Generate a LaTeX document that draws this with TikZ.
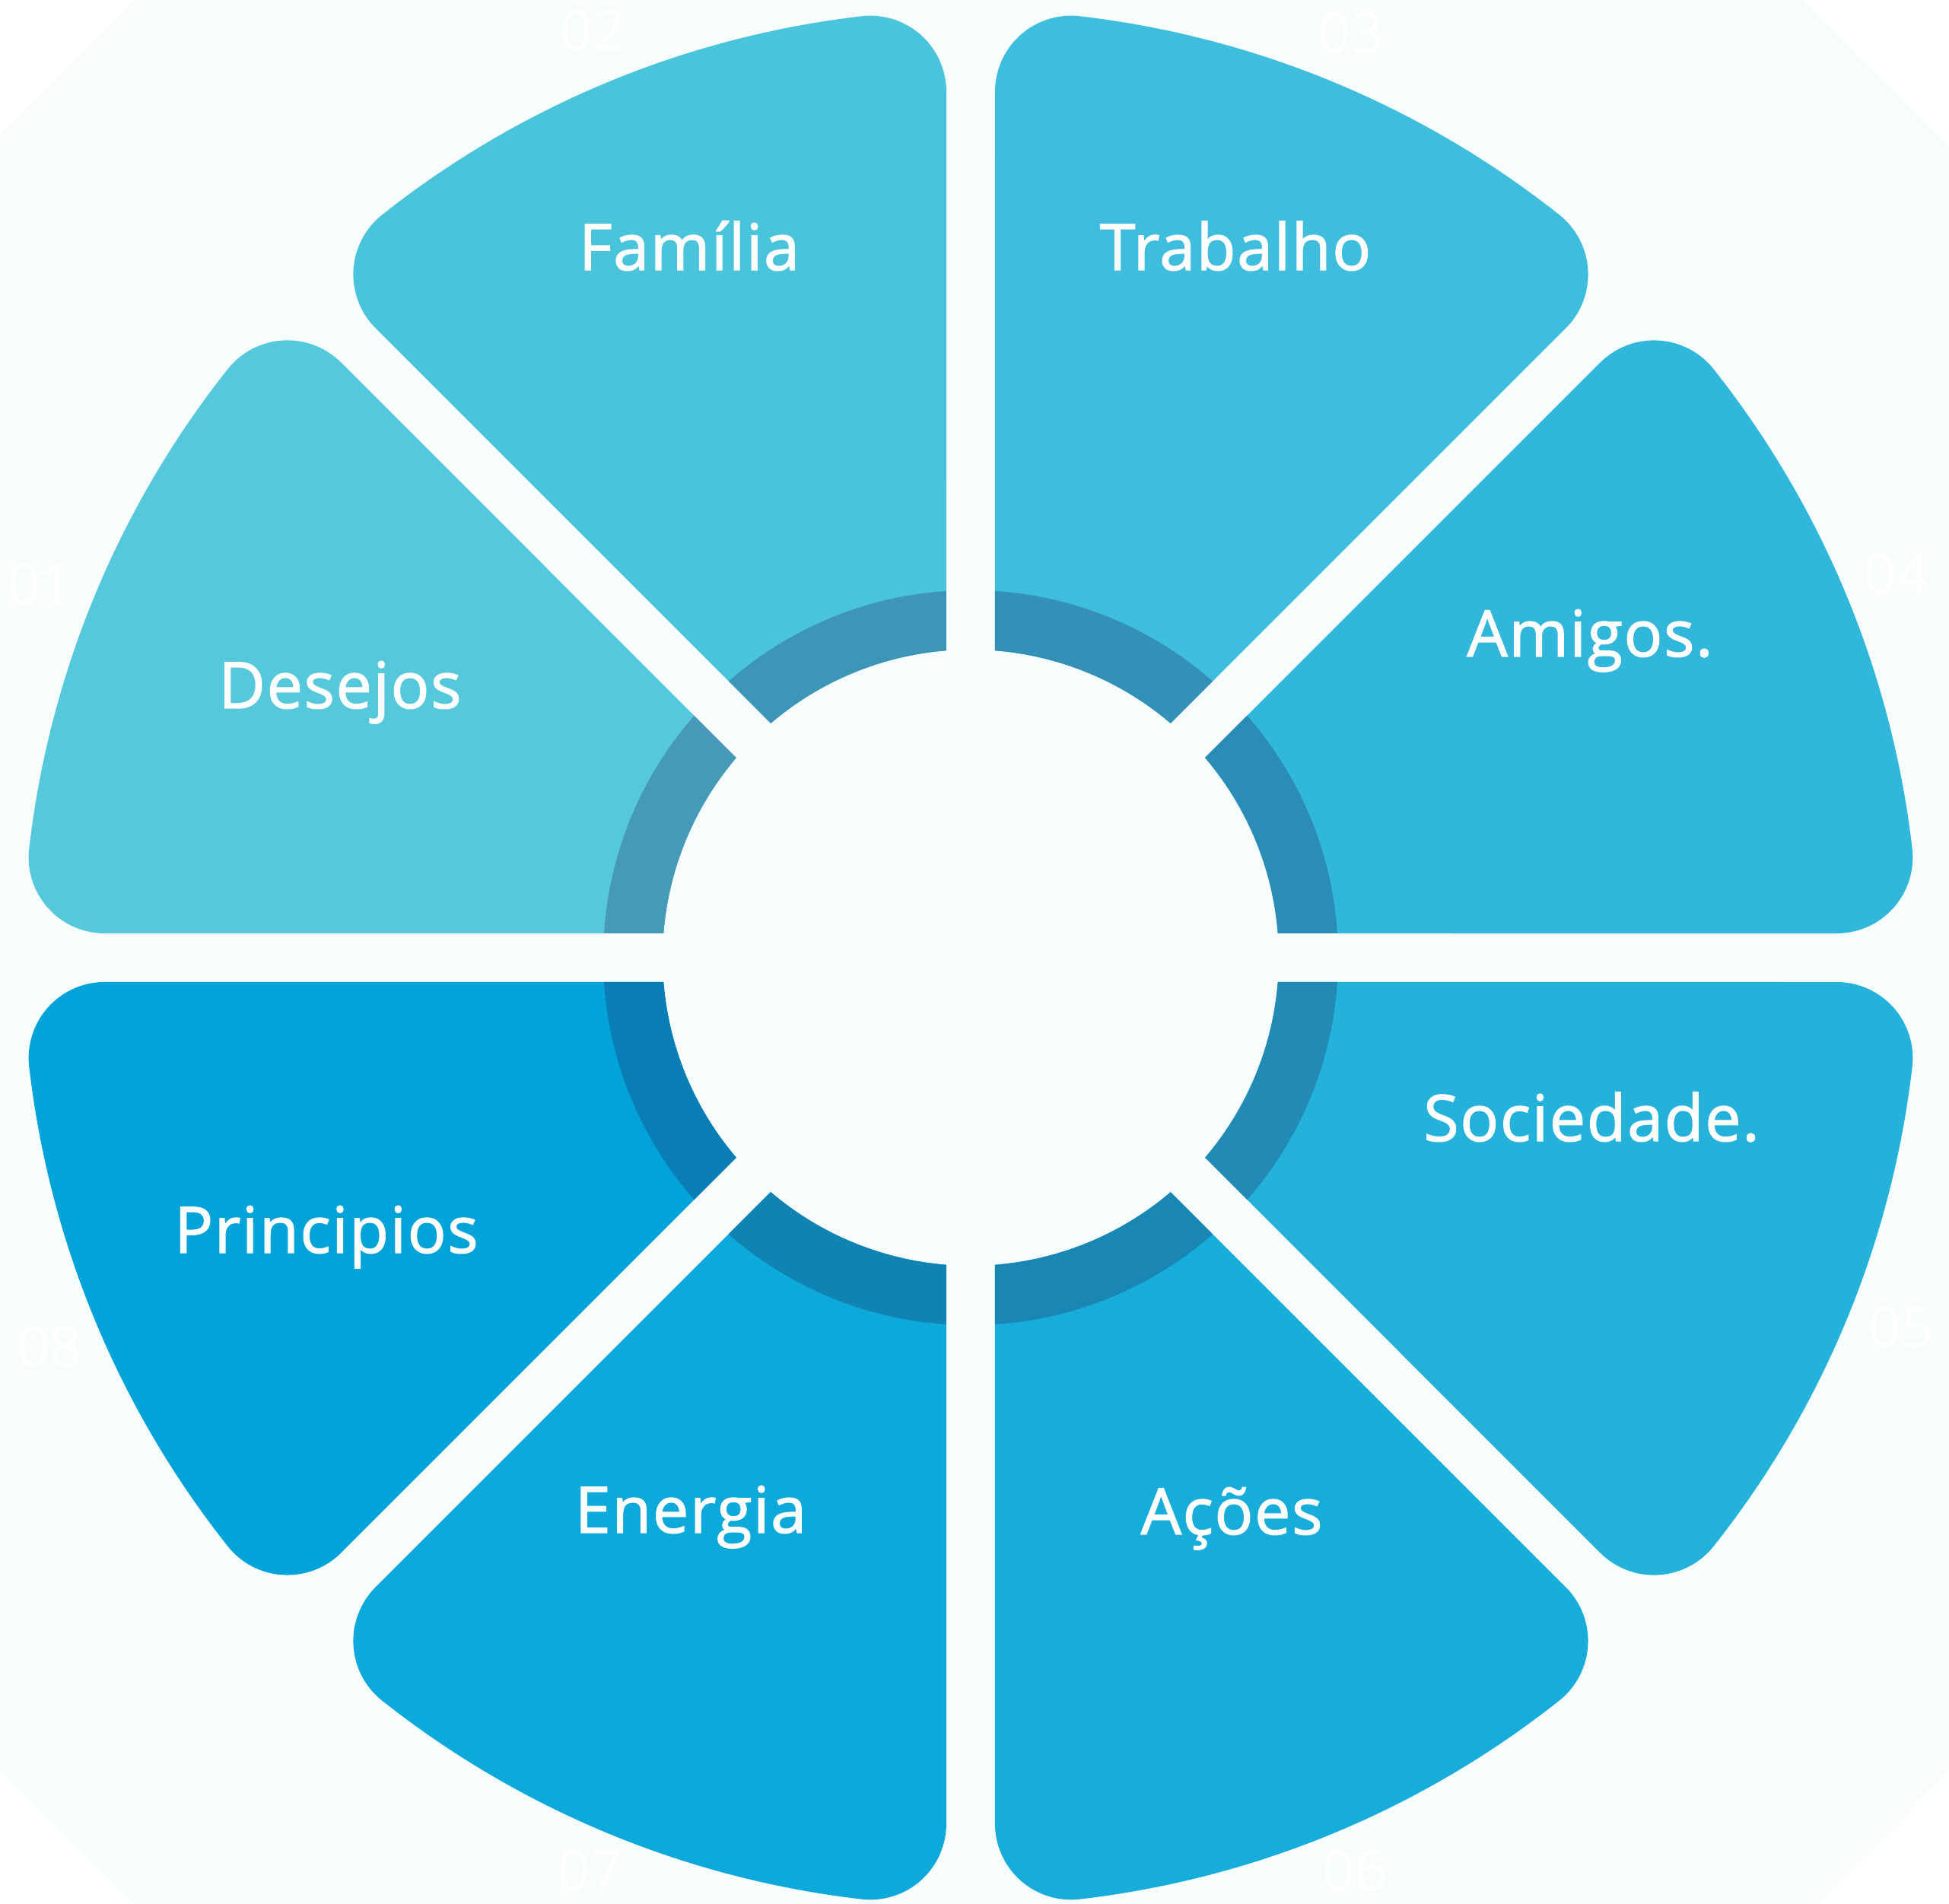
\documentclass[tikz,border=0pt]{standalone}
\usepackage{fontspec}
\setmainfont{Open Sans}
\newfontfamily\labelfont{Open Sans}[LetterSpace=2, FakeBold=1.6]
\usepackage{tikz}

\definecolor{bgtint}{HTML}{F7FCFD}
\definecolor{petalA}{HTML}{30B7DB}
\definecolor{petalB}{HTML}{3EBDDC}
\definecolor{petalC}{HTML}{4AC4DB}
\definecolor{petalD}{HTML}{56C8DB}
\definecolor{petalE}{HTML}{02A3D9}
\definecolor{petalF}{HTML}{0CA9DA}
\definecolor{petalG}{HTML}{17ADDB}
\definecolor{petalH}{HTML}{24B2DB}
\definecolor{ringA}{HTML}{2B8DB6}
\definecolor{ringB}{HTML}{3490B6}
\definecolor{ringC}{HTML}{3D95B7}
\definecolor{ringD}{HTML}{4699B7}
\definecolor{ringE}{HTML}{0A7EB4}
\definecolor{ringF}{HTML}{1183B3}
\definecolor{ringG}{HTML}{1A86B4}
\definecolor{ringH}{HTML}{238AB5}

\newcommand{\petalpath}[1]{(#1+\di:\ri) -- (#1+\aT:\rT)
    arc[start angle=#1-90, end angle=#1+\phi, radius=\rho]
    arc[start angle=#1+\phi, end angle=#1+45-\phi, radius=\R]
    arc[start angle=#1+45-\phi, end angle=#1+135, radius=\rho]
    -- (#1+45-\di:\ri)
    arc[start angle=#1+45-\di, end angle=#1+\di, radius=\ri] -- cycle}

\begin{document}
\begin{tikzpicture}[
    petal label/.style={text=white, anchor=base, inner sep=0pt, font=\labelfont\fontsize{24}{28}\selectfont},
    tag/.style={text=white, inner sep=0pt, font=\fontsize{21}{24}\selectfont}
]
    \pgfmathsetmacro{\R}{12.46}
    \pgfmathsetmacro{\rho}{1.00}
    \pgfmathsetmacro{\gap}{0.32}
    \pgfmathsetmacro{\ri}{4.05}
    \pgfmathsetmacro{\ro}{4.83}
    \pgfmathsetmacro{\phi}{asin((\gap+\rho)/(\R-\rho))}
    \pgfmathsetmacro{\L}{sqrt((\R-\rho)^2-(\gap+\rho)^2)}
    \pgfmathsetmacro{\rT}{sqrt(\L^2+\gap^2)}
    \pgfmathsetmacro{\aT}{atan(\gap/\L)}
    \pgfmathsetmacro{\di}{asin(\gap/\ri)}

    \useasboundingbox (-12.76,-12.44) rectangle (12.86,12.59);
    \fill[bgtint] (-12.76,10.80) -- (-10.97,12.59) -- (10.93,12.59) -- (12.86,10.66)
        -- (12.86,-10.69) -- (11.14,-12.44) -- (-11.01,-12.44) -- (-12.76,-10.69) -- cycle;

    \foreach \a/\pc/\rc in {0/petalA/ringA, 45/petalB/ringB, 90/petalC/ringC, 135/petalD/ringD,
                            180/petalE/ringE, 225/petalF/ringF, 270/petalG/ringG, 315/petalH/ringH}{
        \fill[\pc] \petalpath{\a};
        \begin{scope}
            \clip \petalpath{\a};
            \fill[\rc] (0,0) circle[radius=\ro];
        \end{scope}
    }

    \node[petal label] (desejos)    at (-8.29, 3.28) {Desejos};
    \node[petal label] (familia)    at (-3.70, 9.04) {Família};
    \node[petal label] (trabalho)   at ( 3.48, 9.04) {Trabalho};
    \node[petal label] (amigos)     at ( 8.14, 3.96) {Amigos.};
    \node[petal label] (sociedade)  at ( 8.16,-2.41) {Sociedade.};
    \node[petal label] (acoes)      at ( 3.43,-7.58) {Ações};
    \node[petal label] (energia)    at (-3.68,-7.56) {Energia};
    \node[petal label] (principios) at (-8.47,-3.88) {Principios};

    \node[tag] (tag01) at (-12.23,  4.91) {01};
    \node[tag] (tag02) at ( -4.97, 12.19) {02};
    \node[tag] (tag03) at (  5.00, 12.16) {03};
    \node[tag] (tag04) at ( 12.17,  5.04) {04};
    \node[tag] (tag05) at ( 12.23, -4.86) {05};
    \node[tag] (tag06) at (  5.05,-12.00) {06};
    \node[tag] (tag07) at ( -5.00,-12.00) {07};
    \node[tag] (tag08) at (-12.10, -5.11) {08};
\end{tikzpicture}
\end{document}
